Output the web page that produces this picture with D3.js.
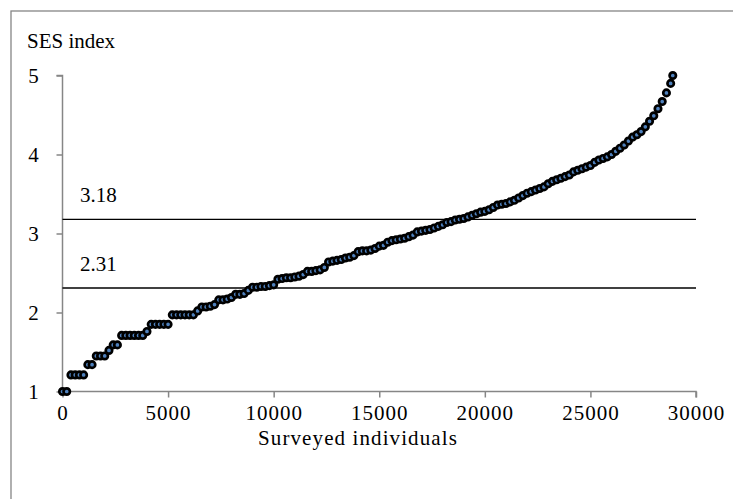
<!DOCTYPE html>
<html><head><meta charset="utf-8">
<script src="https://cdn.jsdelivr.net/npm/d3@7"></script>
<style>body{margin:0;background:#fff}svg{display:block}text{font-family:"Liberation Serif","Times New Roman",serif;fill:#000}</style>
</head><body>
<script>
const individuals = [0,200,400,600,800,1000,1200,1400,1600,1800,2000,2200,2400,2600,2800,3000,3200,3400,3600,3800,4000,4200,4400,4600,4800,5000,5200,5400,5600,5800,6000,6200,6400,6600,6800,7000,7200,7400,7600,7800,8000,8200,8400,8600,8800,9000,9200,9400,9600,9800,10000,10200,10400,10600,10800,11000,11200,11400,11600,11800,12000,12200,12400,12600,12800,13000,13200,13400,13600,13800,14000,14200,14400,14600,14800,15000,15200,15400,15600,15800,16000,16200,16400,16600,16800,17000,17200,17400,17600,17800,18000,18200,18400,18600,18800,19000,19200,19400,19600,19800,20000,20200,20400,20600,20800,21000,21200,21400,21600,21800,22000,22200,22400,22600,22800,23000,23200,23400,23600,23800,24000,24200,24400,24600,24800,25000,25200,25400,25600,25800,26000,26200,26400,26600,26800,27000,27200,27400,27600,27800,28000,28200,28400,28600,28800,28900];
const sesIndex = [1.00,1.00,1.21,1.21,1.21,1.21,1.34,1.34,1.45,1.45,1.45,1.52,1.59,1.59,1.71,1.71,1.71,1.71,1.71,1.71,1.76,1.85,1.85,1.85,1.85,1.85,1.97,1.97,1.97,1.97,1.97,1.97,2.02,2.07,2.07,2.08,2.10,2.16,2.16,2.17,2.19,2.23,2.23,2.24,2.28,2.32,2.32,2.33,2.33,2.34,2.35,2.42,2.43,2.44,2.44,2.45,2.46,2.48,2.52,2.52,2.53,2.54,2.57,2.64,2.65,2.66,2.67,2.69,2.70,2.72,2.77,2.78,2.78,2.79,2.81,2.84,2.85,2.89,2.91,2.92,2.93,2.94,2.96,2.98,3.02,3.03,3.04,3.05,3.07,3.09,3.11,3.14,3.15,3.17,3.18,3.19,3.21,3.23,3.25,3.27,3.28,3.30,3.33,3.36,3.37,3.38,3.40,3.42,3.45,3.48,3.51,3.53,3.55,3.57,3.59,3.63,3.66,3.68,3.70,3.72,3.74,3.78,3.80,3.82,3.84,3.86,3.90,3.93,3.95,3.97,4.00,4.04,4.08,4.12,4.17,4.22,4.25,4.29,4.35,4.42,4.49,4.58,4.67,4.78,4.90,5.00];
const xTicks = [0,5000,10000,15000,20000,25000,30000];
const yTicks = [1,2,3,4,5];
const refLines = [3.18, 2.31];
const refLabels = ["3.18", "2.31"];

const W = 733, H = 499;
const svg = d3.select("body").append("svg").attr("width", W).attr("height", H);
const x = d3.scaleLinear().domain([0, 30000]).range([62.5, 696]);
const y = d3.scaleLinear().domain([1, 5]).range([391.5, 75.5]);
const axisColor = "#868686";

svg.append("rect").attr("x", 11).attr("y", 11).attr("width", 760).attr("height", 520)
  .attr("fill", "none").attr("stroke", axisColor).attr("stroke-width", 1.3);

svg.append("text").attr("x", 27).attr("y", 48).attr("font-size", 21).text("SES index");

// y axis
const ya = svg.append("g").attr("transform", `translate(${x(0)},0)`)
  .call(d3.axisLeft(y).tickValues(yTicks).tickSize(6).tickPadding(17).tickFormat(d3.format("d")));
ya.select(".domain").attr("stroke", axisColor).attr("stroke-width", 1.5).attr("d", `M-6,${y(5)}H0V${y(1)}`);
ya.selectAll(".tick line").attr("stroke", axisColor).attr("stroke-width", 1.5);
ya.selectAll(".tick text").attr("font-size", 21).attr("font-family", "Liberation Serif").attr("fill", "#000").attr("text-anchor", "middle").attr("x", -29);

// x axis
const xa = svg.append("g").attr("transform", `translate(0,${y(1)})`)
  .call(d3.axisBottom(x).tickValues(xTicks).tickSize(6).tickPadding(8).tickFormat(d3.format("d")));
xa.select(".domain").attr("stroke", axisColor).attr("stroke-width", 1.5).attr("d", `M${x(0)},0H${x(30000)}V6`);
xa.selectAll(".tick line").attr("stroke", axisColor).attr("stroke-width", 1.5);
xa.selectAll(".tick text").attr("font-size", 21).attr("font-family", "Liberation Serif").attr("fill", "#000")
  .attr("letter-spacing", "1px");

svg.append("text").attr("x", 358).attr("y", 445).attr("text-anchor", "middle")
  .attr("font-size", 21).attr("letter-spacing", "1.1px").text("Surveyed individuals");

// reference lines
refLines.forEach((v, i) => {
  svg.append("line").attr("x1", x(0)).attr("x2", x(30000)).attr("y1", y(v)).attr("y2", y(v))
    .attr("stroke", "#000").attr("stroke-width", 1.3);
  svg.append("text").attr("x", 80).attr("y", y(v) - 17).attr("font-size", 21).text(refLabels[i]);
});

// markers
svg.append("g").selectAll("circle").data(individuals).join("circle")
  .attr("cx", (d) => x(d)).attr("cy", (d, i) => y(sesIndex[i]))
  .attr("r", 3.2).attr("fill", "#4F81BD").attr("stroke", "#000").attr("stroke-width", 2.7);
</script>
</body></html>
